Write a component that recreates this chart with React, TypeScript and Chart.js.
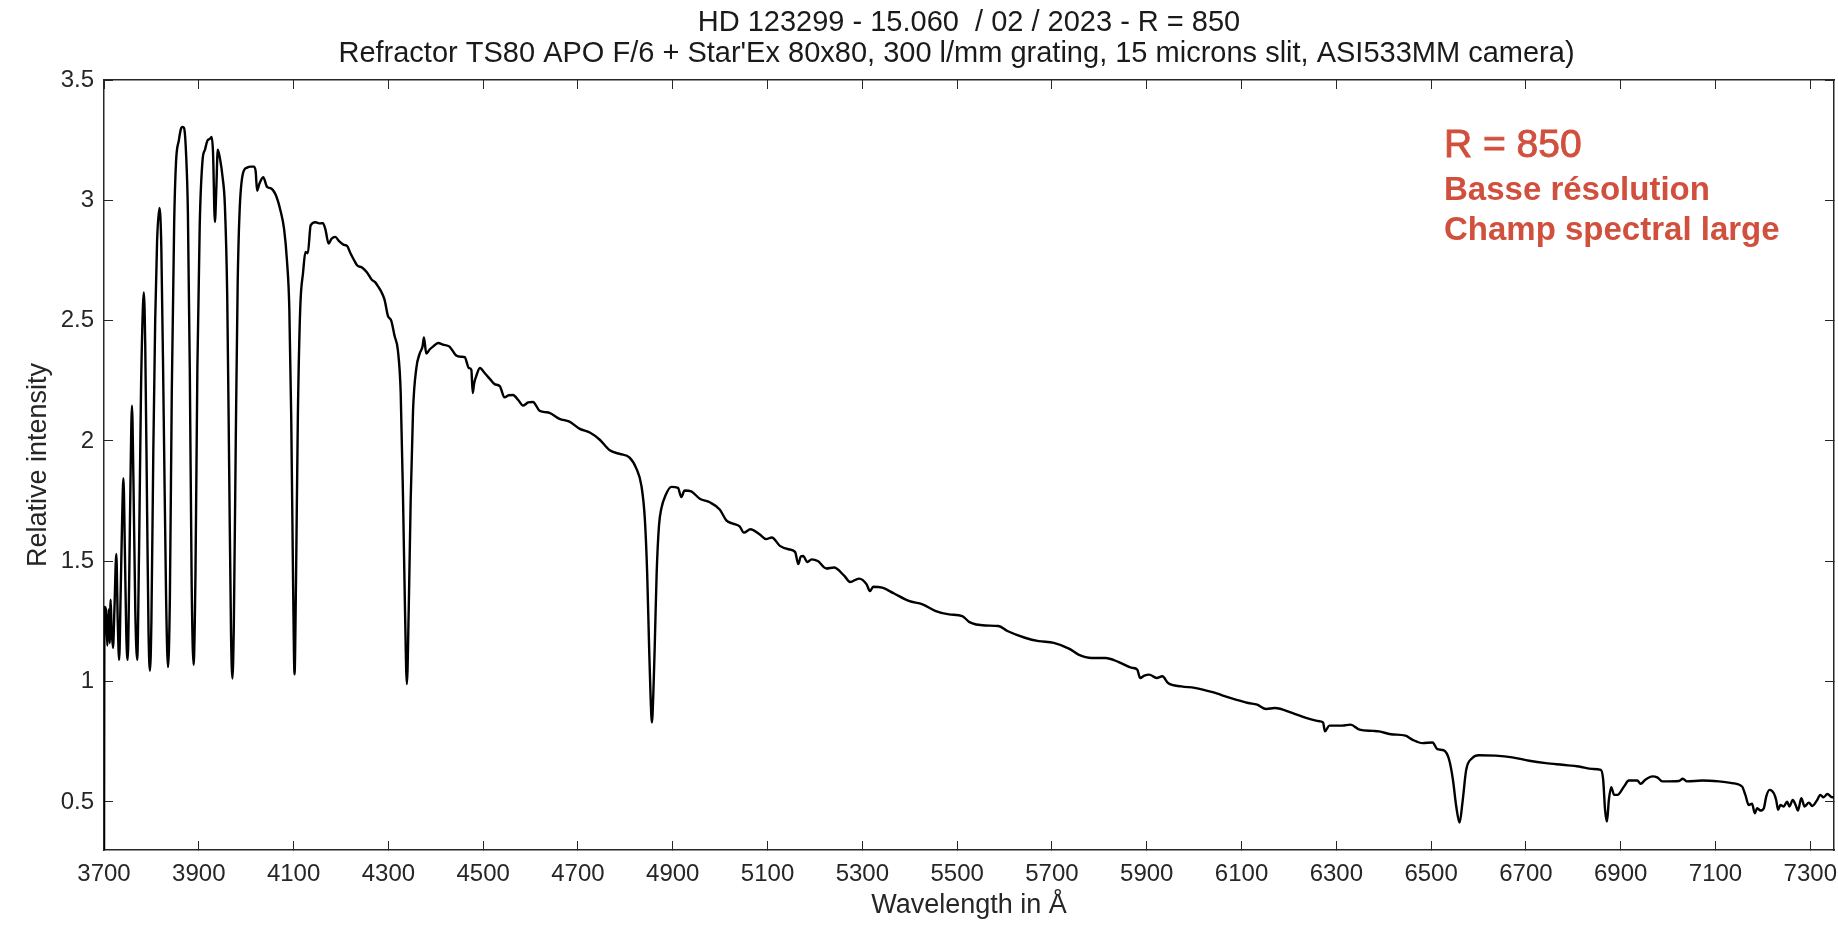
import React, { useEffect, useRef } from "react";
import { Chart, registerables } from "chart.js";

Chart.register(...registerables);

const FONT = "'Liberation Sans', Arial, Helvetica, sans-serif";

const titleLines = [
  "HD 123299 - 15.060  / 02 / 2023 - R = 850",
  "Refractor TS80 APO F/6 + Star'Ex 80x80, 300 l/mm grating, 15 microns slit, ASI533MM camera)",
];
const xAxisLabel = "Wavelength in Å";
const yAxisLabel = "Relative intensity";
const noteLines = ["R = 850", "Basse résolution", "Champ spectral large"];

const xTickValues = [3700, 3900, 4100, 4300, 4500, 4700, 4900, 5100, 5300, 5500, 5700, 5900, 6100, 6300, 6500, 6700, 6900, 7100, 7300];
const yTickValues = [0.5, 1, 1.5, 2, 2.5, 3, 3.5];

// Wavelength (Å)
const wavelengths = [
  3700, 3701, 3704, 3707, 3710, 3712, 3714, 3716, 3719, 3722, 3726, 3729, 3732, 3735, 3738, 3741, 3744, 3747, 3750,
  3753, 3756, 3759, 3762, 3766, 3770, 3774, 3778, 3782, 3784, 3787, 3791, 3794, 3797, 3800, 3804, 3808, 3812, 3817,
  3821, 3826, 3831, 3835, 3839, 3843, 3848, 3852, 3858, 3862, 3866, 3869, 3873, 3877, 3881, 3885, 3889, 3893, 3897,
  3902, 3908, 3913, 3918, 3923, 3927, 3930, 3934, 3937, 3940, 3945, 3950, 3955, 3960, 3964, 3968, 3971, 3974, 3978,
  3982, 3986, 3993, 4002, 4010, 4016, 4020, 4023, 4028, 4036, 4044, 4052, 4062, 4072, 4080, 4086, 4091, 4095, 4099,
  4102, 4105, 4109, 4114, 4120, 4125, 4130, 4136, 4146, 4156, 4162, 4167, 4174, 4180, 4188, 4196, 4205, 4213, 4220,
  4228, 4234, 4245, 4255, 4265, 4272, 4279, 4285, 4292, 4299, 4306, 4313, 4320, 4326, 4331, 4335, 4339, 4343, 4347,
  4352, 4359, 4366, 4372, 4375, 4380, 4387, 4394, 4405, 4415, 4429, 4443, 4454, 4461, 4470, 4475, 4478, 4481, 4486,
  4493, 4504, 4514, 4524, 4535, 4545, 4554, 4563, 4574, 4584, 4595, 4605, 4619, 4630, 4640, 4661, 4682, 4704, 4725,
  4746, 4767, 4788, 4809, 4823, 4834, 4841, 4846, 4850, 4853, 4856, 4859, 4862, 4866, 4871, 4876, 4885, 4897, 4911,
  4918, 4925, 4939, 4957, 4978, 4999, 5013, 5027, 5041, 5050, 5064, 5083, 5097, 5109, 5126, 5144, 5158, 5165, 5170,
  5175, 5184, 5193, 5206, 5224, 5240, 5262, 5274, 5293, 5309, 5316, 5323, 5342, 5366, 5398, 5427, 5455, 5483, 5511,
  5526, 5559, 5587, 5606, 5643, 5672, 5704, 5737, 5756, 5784, 5813, 5841, 5869, 5880, 5886, 5895, 5905, 5921, 5933,
  5945, 5973, 6001, 6039, 6076, 6114, 6133, 6152, 6170, 6208, 6236, 6265, 6272, 6276, 6285, 6312, 6330, 6349, 6377,
  6390, 6415, 6446, 6461, 6482, 6503, 6513, 6527, 6538, 6546, 6553, 6560, 6566, 6574, 6587, 6601, 6636, 6671, 6707,
  6742, 6777, 6812, 6840, 6858, 6863, 6867, 6871, 6875, 6880, 6886, 6893, 6907, 6917, 6935, 6942, 6952, 6967, 6977,
  6988, 7023, 7031, 7040, 7072, 7107, 7135, 7156, 7163, 7170, 7177, 7183, 7188, 7195, 7202, 7207, 7214, 7223, 7228,
  7232, 7237, 7244, 7251, 7256, 7263, 7269, 7274, 7281, 7288, 7297, 7304, 7314, 7321, 7328, 7336, 7346, 7350,
];

// Relative intensity
const intensities = [
  0.2, 1.31, 1.3, 1.15, 1.3, 1.16, 1.34, 1.22, 1.14, 1.3, 1.53, 1.25, 1.09, 1.35, 1.65, 1.845, 1.55, 1.2, 1.09,
  1.4, 1.85, 2.146, 1.85, 1.3, 1.09, 1.55, 2.2, 2.55, 2.617, 2.4, 1.7, 1.2, 1.045, 1.25, 1.95, 2.5, 2.83, 2.968,
  2.8, 2.1, 1.35, 1.06, 1.35, 2.2, 2.9, 3.16, 3.25, 3.295, 3.305, 3.3, 3.2, 2.95, 2.3, 1.4, 1.07, 1.45, 2.3,
  2.9, 3.168, 3.21, 3.247, 3.255, 3.263, 3.2, 2.91, 3.05, 3.21, 3.17, 3.1, 2.98, 2.6, 1.9, 1.2, 1.013, 1.25, 2.0,
  2.65, 2.95, 3.11, 3.136, 3.14, 3.14, 3.12, 3.04, 3.07, 3.096, 3.056, 3.05, 3.024, 2.96, 2.88, 2.75, 2.55, 2.1, 1.4,
  1.03, 1.4, 2.1, 2.55, 2.7, 2.785, 2.78, 2.896, 2.909, 2.904, 2.905, 2.88, 2.82, 2.84, 2.848, 2.83, 2.816, 2.81, 2.78,
  2.75, 2.73, 2.72, 2.7, 2.67, 2.66, 2.64, 2.62, 2.586, 2.52, 2.5, 2.437, 2.377, 2.199, 1.75, 1.306, 0.99, 1.306, 1.75,
  2.125, 2.303, 2.363, 2.392, 2.43, 2.363, 2.38, 2.392, 2.407, 2.4, 2.392, 2.355, 2.35, 2.348, 2.303, 2.296, 2.199, 2.24, 2.273,
  2.303, 2.28, 2.258, 2.236, 2.228, 2.181, 2.19, 2.191, 2.17, 2.147, 2.16, 2.162, 2.125, 2.12, 2.117, 2.092, 2.08, 2.05, 2.035,
  2.005, 1.961, 1.946, 1.931, 1.886, 1.812, 1.678, 1.45, 1.15, 0.95, 0.83, 0.95, 1.15, 1.45, 1.65, 1.72, 1.775, 1.809, 1.805,
  1.767, 1.794, 1.79, 1.76, 1.745, 1.715, 1.67, 1.656, 1.645, 1.619, 1.633, 1.612, 1.592, 1.599, 1.564, 1.55, 1.539, 1.488, 1.52,
  1.522, 1.497, 1.508, 1.501, 1.47, 1.474, 1.439, 1.414, 1.428, 1.404, 1.376, 1.394, 1.39, 1.367, 1.335, 1.321, 1.293, 1.279, 1.272,
  1.247, 1.233, 1.231, 1.21, 1.182, 1.168, 1.161, 1.136, 1.112, 1.098, 1.098, 1.081, 1.057, 1.05, 1.015, 1.025, 1.029, 1.015, 1.022,
  0.994, 0.98, 0.974, 0.956, 0.932, 0.911, 0.904, 0.886, 0.89, 0.869, 0.849, 0.835, 0.83, 0.793, 0.817, 0.817, 0.821, 0.8, 0.795,
  0.793, 0.781, 0.775, 0.758, 0.744, 0.747, 0.719, 0.714, 0.675, 0.592, 0.481, 0.414, 0.495, 0.633, 0.682, 0.694, 0.692, 0.685, 0.671,
  0.661, 0.654, 0.647, 0.637, 0.633, 0.592, 0.467, 0.418, 0.508, 0.561, 0.529, 0.529, 0.564, 0.589, 0.589, 0.575, 0.592, 0.606, 0.602,
  0.585, 0.587, 0.596, 0.585, 0.589, 0.585, 0.578, 0.564, 0.529, 0.487, 0.492, 0.453, 0.474, 0.464, 0.474, 0.522, 0.55, 0.536, 0.508,
  0.467, 0.487, 0.481, 0.501, 0.481, 0.508, 0.487, 0.464, 0.515, 0.481, 0.497, 0.483, 0.506, 0.529, 0.519, 0.533, 0.519, 0.52,
];

const AXIS_COLOR = "#262626";
const NOTE_COLOR = "#D0503D";

const titlePlugin = {
  id: "twoLineTitle",
  afterDraw(chart: any) {
    const { ctx, chartArea } = chart;
    const cx = (chartArea.left + chartArea.right) / 2;
    ctx.save();
    ctx.fillStyle = "#1a1a1a";
    ctx.textAlign = "center";
    ctx.textBaseline = "middle";
    ctx.font = `29px ${FONT}`;
    ctx.fillText(titleLines[0], cx, 23);
    ctx.fillText(titleLines[1], cx - 12.5, 54);
    ctx.restore();
  },
};

const notePlugin = {
  id: "noteText",
  afterDraw(chart: any) {
    const ctx = chart.ctx;
    ctx.save();
    ctx.fillStyle = NOTE_COLOR;
    ctx.strokeStyle = NOTE_COLOR;
    ctx.textAlign = "left";
    ctx.textBaseline = "alphabetic";
    ctx.font = `39px ${FONT}`;
    ctx.lineWidth = 0.9;
    ctx.fillText(noteLines[0], 1444, 157);
    ctx.strokeText(noteLines[0], 1444, 157);
    ctx.font = `bold 33px ${FONT}`;
    ctx.fillText(noteLines[1], 1444, 200);
    ctx.fillText(noteLines[2], 1444, 240);
    ctx.restore();
  },
};

export default function App() {
  const canvasRef = useRef<HTMLCanvasElement | null>(null);

  useEffect(() => {
    const canvas = canvasRef.current;
    if (!canvas) return;
    const points = wavelengths.map((w, i) => ({ x: w, y: intensities[i] }));
    const setXTicks = (s: any) => {
      s.ticks = xTickValues.map((v) => ({ value: v }));
    };
    const setYTicks = (s: any) => {
      s.ticks = yTickValues.map((v) => ({ value: v }));
    };
    const chart = new Chart(canvas, {
      type: "line",
      data: {
        datasets: [
          {
            data: points,
            borderColor: "#000000",
            borderWidth: 2.4,
            pointRadius: 0,
            cubicInterpolationMode: "monotone",
            fill: false,
          },
        ],
      },
      options: {
        animation: false,
        responsive: false,
        maintainAspectRatio: false,
        layout: { padding: { left: 0, right: 4, top: 80, bottom: 0 } },
        plugins: {
          legend: { display: false },
          tooltip: { enabled: false },
          title: { display: false },
        },
        scales: {
          x: {
            type: "linear",
            position: "bottom",
            min: 3700,
            max: 7350,
            afterBuildTicks: setXTicks,
            afterFit: (s: any) => {
              s.height = 75;
              s.paddingLeft = 0;
              s.paddingRight = 0;
            },
            ticks: {
              callback: (v: any) => String(v),
              font: { family: FONT, size: 24 },
              color: AXIS_COLOR,
              padding: 18.6,
              maxRotation: 0,
              autoSkip: false,
            },
            grid: { drawOnChartArea: false, drawTicks: true, tickLength: -9, color: AXIS_COLOR, lineWidth: 1 },
            border: { display: true, color: AXIS_COLOR, width: 1.5 },
            title: {
              display: true,
              text: xAxisLabel,
              color: AXIS_COLOR,
              font: { family: FONT, size: 27 },
              padding: { top: 0, bottom: 3 },
            },
          },
          x2: {
            type: "linear",
            position: "top",
            min: 3700,
            max: 7350,
            afterBuildTicks: setXTicks,
            afterFit: (s: any) => {
              s.height = 0;
              s.paddingLeft = 0;
              s.paddingRight = 0;
            },
            ticks: { display: false },
            grid: { drawOnChartArea: false, drawTicks: true, tickLength: -9, color: AXIS_COLOR, lineWidth: 1 },
            border: { display: true, color: AXIS_COLOR, width: 1.5 },
          },
          y: {
            type: "linear",
            position: "left",
            min: 0.3,
            max: 3.5,
            afterBuildTicks: setYTicks,
            afterFit: (s: any) => {
              s.width = 104;
              s.paddingTop = 0;
              s.paddingBottom = 0;
            },
            ticks: {
              callback: (v: any) => String(v),
              font: { family: FONT, size: 24 },
              color: AXIS_COLOR,
              padding: 19,
            },
            grid: { drawOnChartArea: false, drawTicks: true, tickLength: -9, color: AXIS_COLOR, lineWidth: 1 },
            border: { display: true, color: AXIS_COLOR, width: 1.5 },
            title: {
              display: true,
              text: yAxisLabel,
              color: AXIS_COLOR,
              font: { family: FONT, size: 27 },
              padding: { top: 22.5, bottom: 0 },
            },
          },
          y2: {
            type: "linear",
            position: "right",
            min: 0.3,
            max: 3.5,
            afterBuildTicks: setYTicks,
            afterFit: (s: any) => {
              s.width = 0;
              s.paddingTop = 0;
              s.paddingBottom = 0;
            },
            ticks: { display: false },
            grid: { drawOnChartArea: false, drawTicks: true, tickLength: -9, color: AXIS_COLOR, lineWidth: 1 },
            border: { display: true, color: AXIS_COLOR, width: 1.5 },
          },
        },
      },
      plugins: [titlePlugin, notePlugin],
    });
    return () => chart.destroy();
  }, []);

  return (
    <div style={{ position: "absolute", left: 0, top: 0, width: 1838, height: 925, background: "#ffffff" }}>
      <canvas ref={canvasRef} width={1838} height={925} style={{ display: "block", width: 1838, height: 925 }} />
    </div>
  );
}
